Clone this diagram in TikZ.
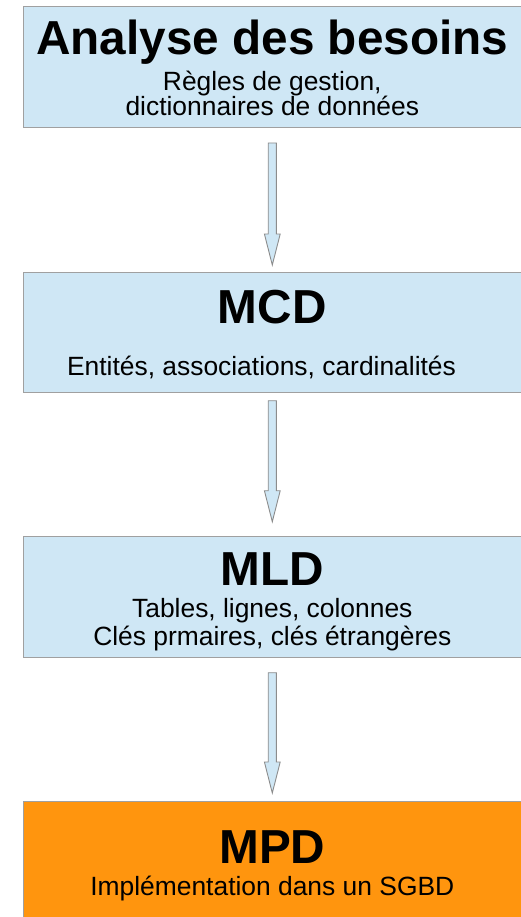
\documentclass[tikz,border=0pt]{standalone}
\usepackage{fontspec}
\setmainfont{Liberation Sans}
\usetikzlibrary{calc}
\definecolor{boxblue}{HTML}{CFE7F5}
\definecolor{boxorange}{HTML}{FF950E}
\definecolor{edgegray}{HTML}{A0A0A0}
\definecolor{arrowgray}{HTML}{8C8C8C}
\tikzset{
  stagebox/.style={draw=edgegray, line width=1pt, fill=boxblue, anchor=north west,
    minimum width=499pt, inner sep=0pt, outer sep=0pt},
  implbox/.style={stagebox, fill=boxorange},
  titletext/.style={anchor=base, inner sep=0pt, font=\bfseries\fontsize{47.7}{56}\selectfont},
  subtext/.style={anchor=base, inner sep=0pt, align=center},
  blockarrow/.style={draw=arrowgray, line width=0.9pt, fill=boxblue, line join=miter},
}
\newcommand\stagearrow[2]{%
  \path[blockarrow] ($(#1)+(-4.1,0)$) -- ($(#2)+(-4.1,-31)$) -- ($(#2)+(-7.9,-31)$)
    -- (#2) -- ($(#2)+(7.9,-31)$) -- ($(#2)+(4.1,-31)$) -- ($(#1)+(4.1,0)$) -- cycle;}
\begin{document}
\begin{tikzpicture}[x=1pt, y=-1pt]
  \useasboundingbox (0,0) rectangle (521,917);
  \clip (0,0) rectangle (521,917);
  % boxes
  \node[stagebox, minimum height=121pt] (b1) at (23,7) {};
  \node[stagebox, minimum height=120.5pt] (b2) at (23,272) {};
  \node[stagebox, minimum height=120.5pt] (b3) at (23,536.5) {};
  \node[implbox, minimum height=130pt] (b4) at (23,801) {};
  % texts (multi-line nodes: base anchor = last line's baseline)
  \node[titletext] (t1) at (272.3,54.3) {Analyse des besoins};
  \node[subtext, font=\fontsize{26.4}{25.5}\selectfont] (s1) at (272.3,116)
    {Règles de gestion,\\dictionnaires de données};
  \node[titletext] (t2) at (272.3,323) {MCD};
  \node[subtext, font=\fontsize{26.4}{28}\selectfont] (s2) at (261.5,375)
    {Entités, associations, cardinalités};
  \node[titletext] (t3) at (272.3,585) {MLD};
  \node[subtext, font=\fontsize{26.4}{27.7}\selectfont] (s3) at (272.3,645)
    {Tables, lignes, colonnes\\Clés prmaires, clés étrangères};
  \node[titletext] (t4) at (272.3,863.3) {MPD};
  \node[subtext, font=\fontsize{26.4}{28}\selectfont] (s4) at (272.3,895)
    {Implémentation dans un SGBD};
  % arrows
  \coordinate (a1s) at (272.3,143);
  \coordinate (a1e) at (272.3,265);
  \coordinate (a2s) at (272.3,400.7);
  \coordinate (a2e) at (272.3,521.7);
  \coordinate (a3s) at (272.3,672.7);
  \coordinate (a3e) at (272.3,793);
  \stagearrow{a1s}{a1e}
  \stagearrow{a2s}{a2e}
  \stagearrow{a3s}{a3e}
\end{tikzpicture}
\end{document}
